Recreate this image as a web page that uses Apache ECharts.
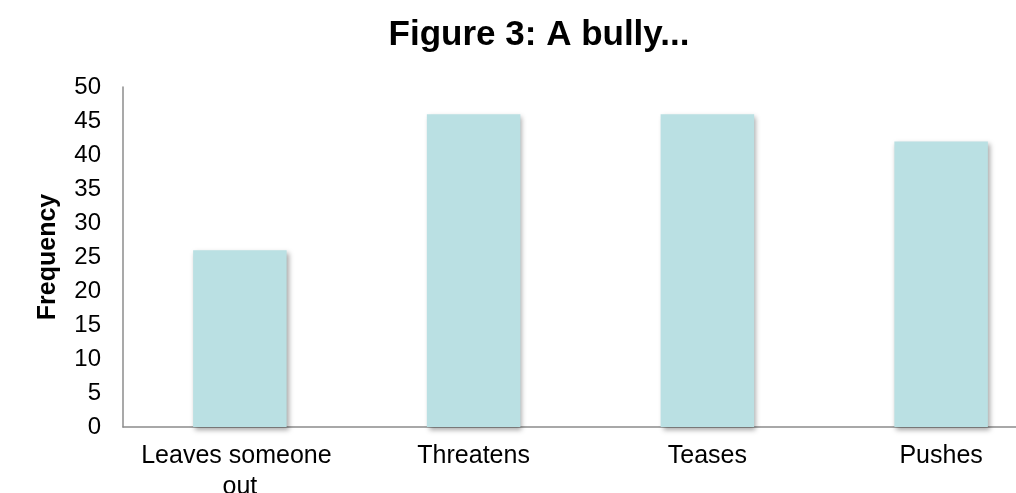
<!DOCTYPE html>
<html>
<head>
<meta charset="utf-8">
<script src="https://cdn.jsdelivr.net/npm/echarts@6/dist/echarts.min.js"></script>
<style>
  html, body { margin: 0; padding: 0; background: #ffffff; }
  #chart { width: 1016px; height: 493px; }
</style>
</head>
<body>
<div id="chart"></div>
<script>
// Survey answers: what a bully does
const categories = ['Leaves someone out', 'Threatens', 'Teases', 'Pushes'];
const frequency = [26, 46, 46, 42];
const yTicks = { min: 0, max: 50, step: 5 };

const chart = echarts.init(document.getElementById('chart'), null, { renderer: 'canvas' });

const FONT = '"Liberation Sans", Arial, sans-serif';

chart.setOption({
  animation: false,
  backgroundColor: '#ffffff',
  title: {
    text: 'Figure 3: A bully...',
    left: 534,
    textAlign: 'center',
    top: 13,
    textStyle: { fontFamily: FONT, fontWeight: 'bold', fontSize: 35, color: '#000000' }
  },
  // plot area runs past the right edge of the page
  grid: { left: 123, top: 87, width: 935, height: 340, containLabel: false, outerBoundsMode: 'none' },
  xAxis: {
    type: 'category',
    data: categories,
    axisLine: { show: true, lineStyle: { color: '#8c8c8c', width: 1.5 } },
    axisTick: { show: false },
    axisLabel: {
      interval: 0,
      margin: 14,
      fontFamily: FONT,
      fontSize: 25,
      lineHeight: 31,
      color: '#000000',
      width: 215,
      overflow: 'break'
    }
  },
  yAxis: {
    type: 'value',
    min: yTicks.min,
    max: yTicks.max,
    interval: yTicks.step,
    name: 'Frequency',
    nameLocation: 'middle',
    nameGap: 62,
    nameRotate: 90,
    nameTextStyle: { fontFamily: FONT, fontWeight: 'bold', fontSize: 25, color: '#000000' },
    axisLine: { show: true, lineStyle: { color: '#8c8c8c', width: 1.5 } },
    axisTick: { show: false },
    splitLine: { show: false },
    axisLabel: { margin: 22, fontFamily: FONT, fontSize: 24, color: '#000000' }
  },
  series: [{
    type: 'bar',
    data: frequency,
    barWidth: '40%',
    itemStyle: {
      color: '#bae0e3',
      shadowColor: 'rgba(0,0,0,0.35)',
      shadowBlur: 5,
      shadowOffsetX: 2,
      shadowOffsetY: 3
    }
  }]
});
</script>
</body>
</html>
